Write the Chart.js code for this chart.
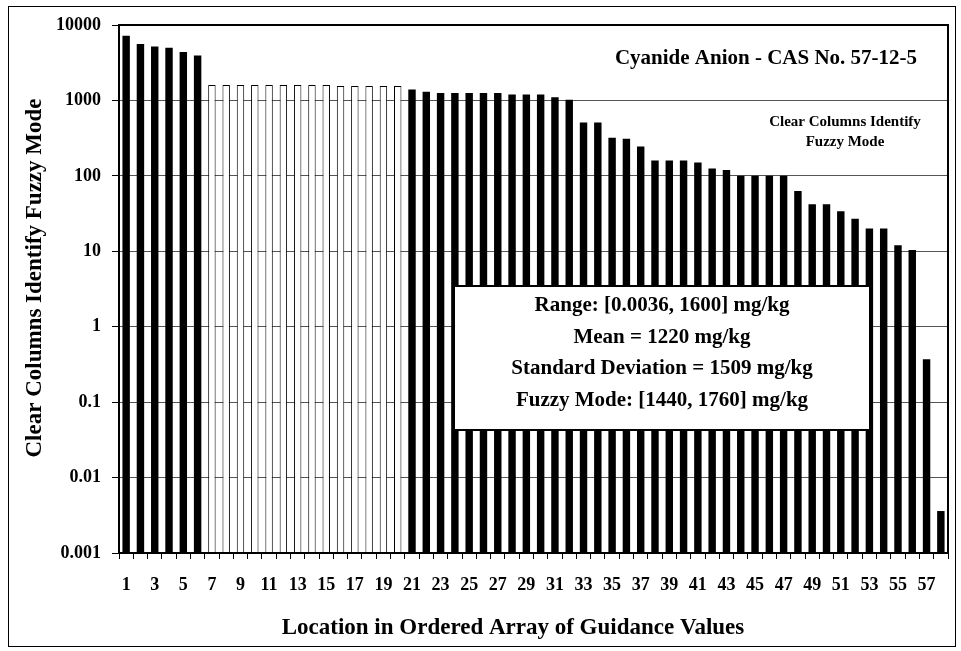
<!DOCTYPE html>
<html>
<head>
<meta charset="utf-8">
<script src="https://cdn.jsdelivr.net/npm/chart.js@4.4.1/dist/chart.umd.min.js"></script>
<style>
  html, body { margin: 0; padding: 0; background: #fff; }
</style>
</head>
<body>
<canvas id="mainChart" width="961" height="651"></canvas>
<script>
// location of each guidance value in the ordered array
const locations = [
  1, 2, 3, 4, 5, 6, 7, 8, 9, 10, 11, 12, 13, 14, 15, 16, 17, 18, 19, 20,
  21, 22, 23, 24, 25, 26, 27, 28, 29, 30, 31, 32, 33, 34, 35, 36, 37, 38, 39, 40,
  41, 42, 43, 44, 45, 46, 47, 48, 49, 50, 51, 52, 53, 54, 55, 56, 57, 58
];

// guidance values, mg/kg
const guidanceValues = [
  7200, 5600, 5200, 5000, 4400, 3950,
  1600, 1600, 1600, 1600, 1600, 1600, 1600, 1600, 1600,
  1550, 1550, 1550, 1550, 1550,
  1400, 1300, 1250, 1250, 1250, 1250, 1250, 1200, 1200, 1200,
  1100, 1020, 510, 510, 320, 310, 245, 160, 160, 160,
  150, 125, 120, 100, 100, 100, 100, 63, 42, 42,
  34, 27, 20, 20, 12, 10.4, 0.37, 0.0036
];

// locations drawn as clear columns (fuzzy mode)
const clearColumns = [7, 8, 9, 10, 11, 12, 13, 14, 15, 16, 17, 18, 19, 20];

const yTicks = [0.001, 0.01, 0.1, 1, 10, 100, 1000, 10000];

const statsLines = [
  "Range: [0.0036, 1600] mg/kg",
  "Mean = 1220 mg/kg",
  "Standard Deviation = 1509 mg/kg",
  "Fuzzy Mode: [1440, 1760] mg/kg"
];

const serif = "'Liberation Serif', 'Times New Roman', serif";

const isClear = locations.map((loc) => clearColumns.includes(loc));

const extras = {
  id: "extras",
  afterDraw(chart) {
    const { ctx, chartArea: a } = chart;
    ctx.save();
    // outer border
    ctx.strokeStyle = "#000";
    ctx.lineWidth = 1;
    ctx.strokeRect(8.5, 6.5, 947, 640);

    // plot frame
    ctx.lineWidth = 2;
    ctx.strokeRect(a.left, a.top, a.right - a.left, a.bottom - a.top);

    ctx.fillStyle = "#000";
    ctx.textAlign = "center";
    ctx.textBaseline = "middle";

    // axis titles
    ctx.font = "bold 23px " + serif;
    ctx.fillText("Location in Ordered Array of Guidance Values", 513, 628);
    ctx.save();
    ctx.translate(35, 278);
    ctx.rotate(-Math.PI / 2);
    ctx.fillText("Clear Columns Identify Fuzzy Mode", 0, 0);
    ctx.restore();

    ctx.font = "bold 21px " + serif;
    ctx.fillText("Cyanide Anion - CAS No. 57-12-5", 766, 59);

    ctx.font = "bold 15px " + serif;
    ctx.fillText("Clear Columns Identify", 845, 122);
    ctx.fillText("Fuzzy Mode", 845, 142);

    // stats box
    ctx.fillStyle = "#fff";
    ctx.fillRect(454, 286, 416, 144);
    ctx.lineWidth = 2;
    ctx.strokeStyle = "#000";
    ctx.strokeRect(454, 286, 416, 144);
    ctx.fillStyle = "#000";
    ctx.font = "bold 21px " + serif;
    statsLines.forEach((t, i) => ctx.fillText(t, 662, 306 + i * 31.5));
    ctx.restore();
  },
};

new Chart(document.getElementById("mainChart"), {
  type: "bar",
  data: {
    labels: locations,
    datasets: [
      {
        data: guidanceValues,
        backgroundColor: isClear.map((c) => (c ? "#fff" : "#000")),
        borderColor: "#000",
        borderWidth: isClear.map((c) => (c ? 1 : 0)),
        categoryPercentage: 1,
        barPercentage: 0.52,
      },
    ],
  },
  options: {
    responsive: false,
    animation: false,
    devicePixelRatio: 1,
    layout: { padding: { top: 25, right: 13, bottom: 0, left: 0 } },
    plugins: {
      legend: { display: false },
      tooltip: { enabled: false },
    },
    scales: {
      x: {
        offset: true,
        grid: {
          offset: true,
          drawOnChartArea: false,
          tickLength: 6,
          tickColor: "#000",
          color: "#000",
        },
        border: { display: true, color: "#000", width: 2 },
        ticks: {
          autoSkip: false,
          maxRotation: 0,
          minRotation: 0,
          padding: 16,
          color: "#000",
          font: { family: serif, size: 18, weight: "bold" },
          callback: (v, i) => (i % 2 === 0 ? locations[i] : ""),
        },
        afterFit: (s) => {
          s.height = 98;
        },
      },
      y: {
        type: "logarithmic",
        min: 0.001,
        max: 10000,
        afterBuildTicks: (s) => {
          s.ticks = yTicks.map((v) => ({ value: v }));
        },
        grid: { color: "#555", lineWidth: 1, tickLength: 7, tickColor: "#000" },
        border: { display: true, color: "#000", width: 2 },
        ticks: {
          padding: 11,
          color: "#000",
          font: { family: serif, size: 18, weight: "bold" },
          callback: (v) => String(v),
        },
        afterFit: (s) => {
          s.width = 119;
        },
      },
    },
  },
  plugins: [extras],
});
</script>
</body>
</html>
